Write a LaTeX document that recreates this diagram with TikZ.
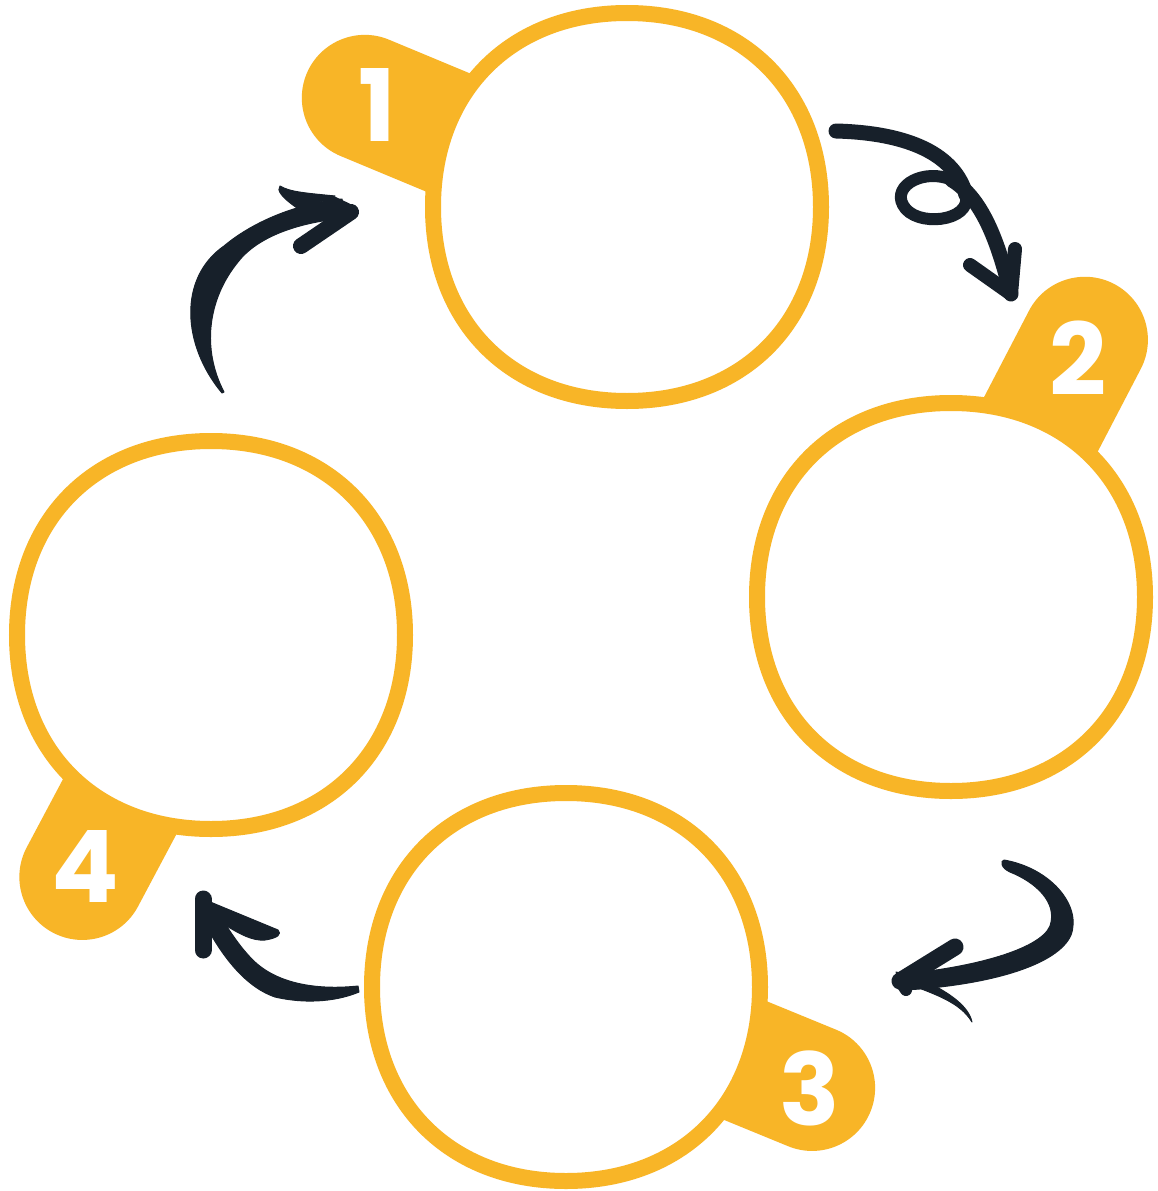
\documentclass[tikz,border=0pt]{standalone}
\usepackage{fontspec}
\newfontfamily\numfont{Poppins}
\definecolor{tabyellow}{RGB}{248,181,39}
\definecolor{inkblue}{RGB}{23,32,42}
\tikzset{
  ringline/.style={draw=tabyellow, line width=16pt, fill=white},
  num/.style={text=white, font=\numfont\bfseries\fontsize{100}{100}\selectfont, inner sep=0pt},
  brush/.style={draw=inkblue, line width=13pt, line cap=round, line join=round},
  ink/.style={fill=inkblue, draw=inkblue, line width=1pt, line join=round},
}
\begin{document}
\begin{tikzpicture}[x=1pt,y=1pt]
\useasboundingbox (0,0) rectangle (1158,-1191);
\fill[white] (0,0) rectangle (1158,-1191);
\coordinate (s1) at (627,-207);
\coordinate (s2) at (951,-597);
\coordinate (s3) at (566,-987);
\coordinate (s4) at (211,-635);
% tabs behind the rings
\foreach \s/\ang/\len in {s1/157.4/284, s2/62.5/290, s3/-22.3/266, s4/242/274}
  \fill[tabyellow, shift={(\s)}, rotate=\ang] (0,-63) -- (\len,-63) arc[start angle=-90, end angle=90, radius=63] -- (0,63) -- cycle;
% slightly squarish rings
\foreach \s in {s1,s2,s3,s4}
  \path[ringline, shift={(\s)}] (194,0) .. controls (194,116) and (116,194) .. (0,194)
    .. controls (-116,194) and (-194,116) .. (-194,0)
    .. controls (-194,-116) and (-116,-194) .. (0,-194)
    .. controls (116,-194) and (194,-116) .. (194,0) -- cycle;
\node[num] (n1) at (377,-105) {1};
\node[num] (n2) at (1078,-358) {2};
\node[num] (n3) at (810,-1088) {3};
\node[num] (n4) at (85,-866) {4};
% arrow ends
\coordinate (a1) at (836,-131);
\coordinate (b1) at (1011,-294);
\coordinate (a2) at (1004,-860);
\coordinate (b2) at (900,-981);
\coordinate (a3) at (358,-986);
\coordinate (b3) at (203,-899);
\coordinate (a4) at (222,-393);
\coordinate (b4) at (351,-212);
% 1 -> 2, with a loop
\draw[brush, line width=15pt] (a1) .. controls (910,-133) and (955,-155) .. (966,-195);
\draw[brush, line width=12pt] (966,-195)
  .. controls (972,-222) and (915,-228) .. (903,-205)
  .. controls (892,-185) and (925,-168) .. (952,-180);
\draw[brush, line width=15pt] (952,-180) .. controls (985,-200) and (1000,-250) .. (b1);
\draw[brush, line width=14pt] (970,-265) -- (b1) -- (1015,-249);
% 2 -> 3
\path[ink] (a2) .. controls (1050,-868) and (1082,-905) .. (1071,-935)
  .. controls (1058,-965) and (990,-985) .. (905,-990) -- (902,-974)
  .. controls (970,-968) and (1040,-950) .. (1050,-926)
  .. controls (1058,-902) and (1035,-882) .. (1010,-872)
  .. controls (1001,-868) and (1000,-861) .. (a2) -- cycle;
\draw[brush, line width=17pt] (955,-947) -- (b2);
\path[ink] (896,-972) -- (b2) .. controls (935,-994) and (960,-1002) .. (972,-1022)
  .. controls (968,-1004) and (945,-990) .. (915,-976) -- cycle;
\draw[brush, line width=12pt] (b2) -- (906,-990);
% 3 -> 4
\path[ink] (a3) .. controls (320,-990) and (280,-985) .. (255,-962)
  .. controls (240,-948) and (225,-925) .. (214,-904) -- (199,-912)
  .. controls (215,-945) and (240,-985) .. (275,-997)
  .. controls (310,-1005) and (340,-1000) .. (359,-992) -- cycle;
\draw[brush, line width=17pt] (203,-950) -- (b3);
\path[ink] (b3) -- (278,-930) .. controls (282,-934) and (278,-938) .. (265,-940)
  .. controls (252,-941) and (240,-934) .. (225,-925) -- cycle;
% 4 -> 1
\path[ink] (a4) .. controls (182,-345) and (178,-278) .. (224,-246)
  .. controls (255,-220) and (300,-203) .. (342,-199) -- (346,-218)
  .. controls (300,-222) and (258,-236) .. (238,-262)
  .. controls (207,-300) and (202,-350) .. (224,-392) -- cycle;
\draw[brush, line width=16pt] (b4) -- (301,-246);
\draw[brush, line width=14pt] (b4) -- (330,-202);
\path[ink] (335,-196) .. controls (305,-193) and (290,-192) .. (280,-186)
  .. controls (276,-190) and (282,-198) .. (300,-210) -- cycle;
\end{tikzpicture}
\end{document}
